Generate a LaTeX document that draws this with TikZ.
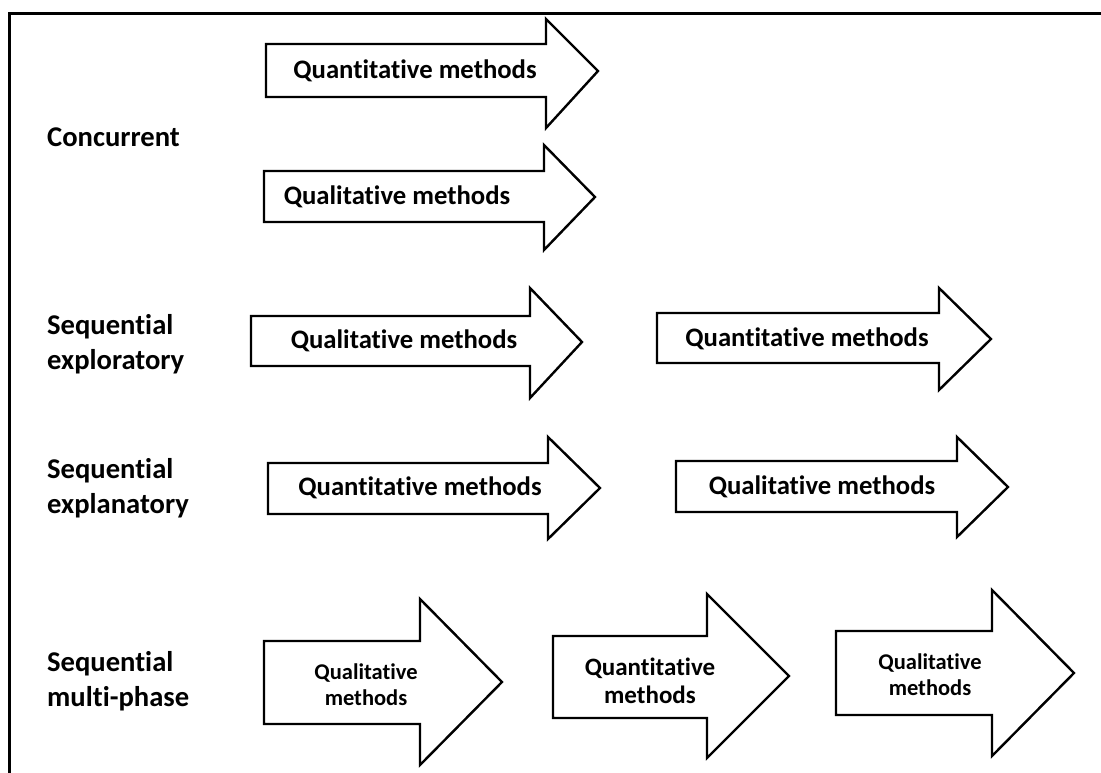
\documentclass[tikz,border=0pt]{standalone}
\usepackage{fontspec}
\setmainfont{Carlito}[Ligatures=CommonOff]
\newcommand\arw[8]{\draw[shaft] (#1,#2) -- (#4,#2) -- (#4,#5) -- (#7,#8) -- (#4,#6) -- (#4,#3) -- (#1,#3) -- cycle;}
\begin{document}
\begin{tikzpicture}[x=1pt,y=-1pt,
  shaft/.style={draw=black,line width=2.4pt,fill=white,line join=miter},
  frame/.style={draw=black,line width=3pt},
  txt/.style={font=\fontsize{26.7}{31}\selectfont\bfseries,inner sep=0pt},
  txtsm/.style={inner sep=0pt,align=center},
  lab/.style={font=\fontsize{28.6}{35.5}\selectfont\bfseries,inner sep=0pt,anchor=west,align=left}]
\useasboundingbox (0,0) rectangle (1101,772);
\draw[frame] (9,780) -- (9,13) -- (1110,13);
% arrows
\arw{266}{44}{97}{546}{19}{128}{598}{71}
\arw{264}{171}{222}{544}{145}{250}{595}{197}
\arw{251}{316}{366}{530}{288}{398}{582}{342}
\arw{657}{313}{363}{939}{288}{390}{991}{339}
\arw{268}{463}{514}{548}{437}{539}{600}{488}
\arw{676}{461}{512}{957}{437}{537}{1008}{487}
\arw{264}{641}{724}{420}{599}{765}{502}{682}
\arw{553}{636}{718}{707}{594}{758}{789}{676}
\arw{836}{631}{715}{992}{590}{756}{1074}{673}
% texts
\node[txt] (t1) at (415,71) {Quantitative methods};
\node[txt] (t2) at (397,197) {Qualitative methods};
\node[txt] (t3) at (404,341) {Qualitative methods};
\node[txt] (t4) at (807,339) {Quantitative methods};
\node[txt] (t5) at (420,488) {Quantitative methods};
\node[txt] (t6) at (822,487) {Qualitative methods};
\node[txtsm,font=\fontsize{22.5}{26}\selectfont\bfseries] (t7) at (366,685) {Qualitative\\methods};
\node[txtsm,font=\fontsize{25}{28}\selectfont\bfseries] (t8) at (650,681) {Quantitative\\methods};
\node[txtsm,font=\fontsize{22.5}{26}\selectfont\bfseries] (t9) at (930,675) {Qualitative\\methods};
% labels
\node[lab] (l1) at (47,137) {Concurrent};
\node[lab] (l2) at (47,344) {Sequential\\exploratory};
\node[lab] (l3) at (47,488) {Sequential\\explanatory};
\node[lab] (l4) at (47,681) {Sequential\\multi-phase};
\end{tikzpicture}
\end{document}
